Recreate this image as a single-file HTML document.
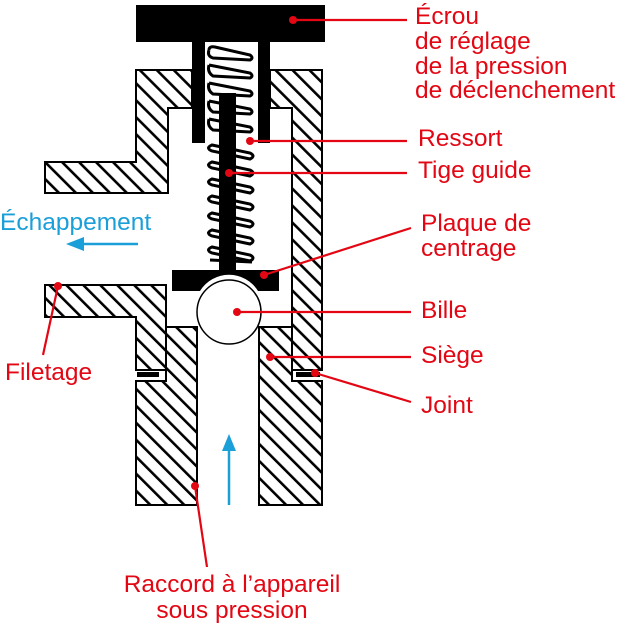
<!DOCTYPE html>
<html><head><meta charset="utf-8"><style>
html,body{margin:0;padding:0;background:#fff;}
svg{display:block;}
text{font-family:"Liberation Sans",sans-serif;font-size:24.5px;}
</style></head><body>
<svg width="626" height="630" viewBox="0 0 626 630" xmlns="http://www.w3.org/2000/svg">
<defs>
<pattern id="h" patternUnits="userSpaceOnUse" width="12" height="12" patternTransform="rotate(-45)">
<rect width="12" height="12" fill="#fff"/>
<rect x="0" y="0" width="2.6" height="12" fill="#000"/>
</pattern>
</defs>
<g stroke="#000" stroke-width="2" fill="url(#h)">
<polygon points="136,70 192,70 192,108 168,108 168,193 45,193 45,162 136,162"/>
<polygon points="270,70 322,70 322,370 292,370 292,108 270,108"/>
<polygon points="45,285 166,285 166,370 136,370 136,317 45,317"/>
<polygon points="166,327 197,327 197,505 136,505 136,381 166,381"/>
<polygon points="259,327 292,327 292,381 322,381 322,505 259,505"/>
</g>
<rect x="137" y="372" width="22" height="5" fill="#000"/>
<rect x="296" y="372" width="24" height="5" fill="#000"/>
<rect x="136" y="5" width="189" height="37" fill="#000"/>
<rect x="192" y="40" width="13" height="103" fill="#000"/>
<rect x="258" y="40" width="12" height="103" fill="#000"/>
<g fill="none" stroke="#000" stroke-width="3">
<path d="M209,50 Q209,46 215,47 L250,55 Q254,58 250,60 L213,58 Q207,56 209,50"/>
<path d="M209,65 L250,73 Q254,76 250,78 L213,76 Q207,72 209,65"/>
<path d="M209,83 L250,91 Q254,94 250,96 L213,94 Q207,90 209,83"/>
<path d="M209,101 L250,109 Q254,112 250,114 L213,112 Q207,108 209,101"/>
<path d="M209,119 L250,127 Q254,130 250,132 L213,130 Q207,126 209,119"/>
</g>
<g fill="none" stroke="#000" stroke-width="3">
<path d="M212,145 Q205,148 212,151 L250,159 Q256,156 250,153 Z"/>
<path d="M212,162 Q205,165 212,168 L250,176 Q256,173 250,170 Z"/>
<path d="M212,179 Q205,182 212,185 L250,193 Q256,190 250,187 Z"/>
<path d="M212,196 Q205,199 212,202 L250,210 Q256,207 250,204 Z"/>
<path d="M212,213 Q205,216 212,219 L250,227 Q256,224 250,221 Z"/>
<path d="M212,230 Q205,233 212,236 L250,244 Q256,241 250,238 Z"/>
<path d="M212,247 Q205,250 212,253 L250,261 Q256,258 250,255 Z"/>
<path d="M210,260 L252,262"/>
</g>
<rect x="219" y="93" width="17" height="180" fill="#000"/>
<path d="M172,270 L279,270 L279,291 L258,291 A34,34 0 0 0 200,291 L172,291 Z" fill="#000"/>
<circle cx="229" cy="312" r="32" fill="#fff" stroke="#000" stroke-width="1.5"/>
<g fill="#1a9fd9" stroke="#1a9fd9">
<line x1="229" y1="448" x2="229" y2="505" stroke-width="2.5"/>
<polygon points="229,434 222,451 236,451" stroke="none"/>
<line x1="80" y1="244" x2="138" y2="244" stroke-width="2.5"/>
<polygon points="66,244 84,237 84,251" stroke="none"/>
</g>
<text x="0" y="230" fill="#1a9fd9" font-size="26">Échappement</text>
<g stroke="#e30613" stroke-width="2.2" fill="none">
<line x1="293" y1="20" x2="407" y2="20"/>
<line x1="250" y1="141" x2="407" y2="141"/>
<line x1="229" y1="173" x2="407" y2="173"/>
<line x1="264" y1="275" x2="411" y2="228"/>
<line x1="237" y1="312" x2="411" y2="312"/>
<line x1="270" y1="357" x2="411" y2="357"/>
<line x1="315" y1="373" x2="411" y2="402"/>
<line x1="58" y1="286" x2="43" y2="355"/>
<line x1="195" y1="486" x2="207" y2="567"/>
</g>
<g fill="#e30613">
<circle cx="293" cy="20" r="4"/><circle cx="250" cy="141" r="4"/><circle cx="229" cy="173" r="4"/>
<circle cx="264" cy="275" r="4"/><circle cx="237" cy="312" r="4"/><circle cx="270" cy="357" r="4"/>
<circle cx="315" cy="373" r="4"/><circle cx="58" cy="286" r="4"/><circle cx="195" cy="486" r="4"/>
</g>
<g fill="#e30613">
<text x="415" y="24">Écrou</text>
<text x="415" y="49">de réglage</text>
<text x="415" y="74">de la pression</text>
<text x="415" y="98">de déclenchement</text>
<text x="418" y="146">Ressort</text>
<text x="418" y="178">Tige guide</text>
<text x="421" y="231">Plaque de</text>
<text x="421" y="256">centrage</text>
<text x="421" y="318">Bille</text>
<text x="421" y="363">Siège</text>
<text x="421" y="413">Joint</text>
<text x="5" y="380">Filetage</text>
<text x="232" y="592" text-anchor="middle">Raccord à l’appareil</text>
<text x="232" y="618" text-anchor="middle">sous pression</text>
</g>
</svg>
</body></html>
